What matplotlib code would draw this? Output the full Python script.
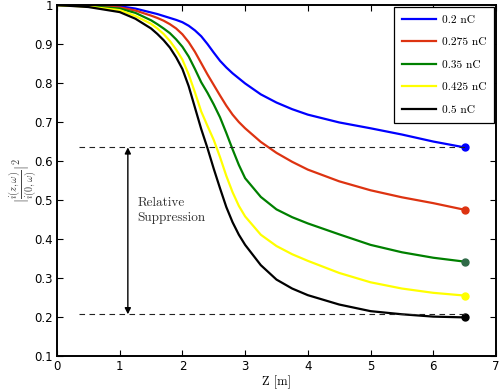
import numpy as np
import matplotlib
matplotlib.use("Agg")
import matplotlib.pyplot as plt

plt.rcParams['mathtext.fontset'] = 'cm'

# Z positions (m) and normalised current for each bunch charge
z = [0, 0.5, 1.0, 1.25, 1.5, 1.6, 1.7, 1.8, 1.9, 2.0, 2.1, 2.2, 2.3, 2.4, 2.5, 2.6, 2.7, 2.8, 2.9, 3.0,
     3.25, 3.5, 3.75, 4.0, 4.5, 5.0, 5.5, 6.0, 6.5]

q_02 = [1.0, 0.999, 0.997, 0.991, 0.981, 0.977, 0.972, 0.967, 0.962, 0.956, 0.947, 0.935, 0.920,
        0.900, 0.878, 0.857, 0.840, 0.825, 0.812, 0.799, 0.771, 0.750, 0.733, 0.719, 0.699,
        0.684, 0.668, 0.650, 0.635]
q_0275 = [1.0, 0.998, 0.994, 0.986, 0.973, 0.967, 0.960, 0.951, 0.940, 0.925, 0.905, 0.880, 0.851,
          0.822, 0.795, 0.768, 0.742, 0.719, 0.700, 0.684, 0.649, 0.621, 0.598, 0.578, 0.548,
          0.525, 0.507, 0.492, 0.475]
q_035 = [1.0, 0.997, 0.991, 0.980, 0.961, 0.951, 0.940, 0.928, 0.912, 0.893, 0.868, 0.836, 0.802,
         0.775, 0.745, 0.712, 0.672, 0.630, 0.590, 0.556, 0.508, 0.476, 0.456, 0.440, 0.412,
         0.385, 0.366, 0.352, 0.342]
q_0425 = [1.0, 0.996, 0.987, 0.972, 0.952, 0.940, 0.926, 0.908, 0.886, 0.860, 0.822, 0.776, 0.727,
          0.690, 0.654, 0.610, 0.562, 0.520, 0.485, 0.458, 0.411, 0.382, 0.361, 0.344, 0.313,
          0.289, 0.273, 0.262, 0.255]
q_05 = [1.0, 0.995, 0.982, 0.965, 0.940, 0.926, 0.910, 0.891, 0.866, 0.836, 0.792, 0.737, 0.682,
        0.633, 0.580, 0.530, 0.482, 0.443, 0.411, 0.385, 0.333, 0.296, 0.273, 0.256, 0.232,
        0.215, 0.207, 0.201, 0.199]

etiquetas = ['0.2 nC', '0.275 nC', '0.35 nC', '0.425 nC', '0.5 nC']
colores = ['#0000ff', '#dd3311', '#008000', '#ffff00', '#000000']
colores_punto = ['#0000ff', '#dd3311', '#2f6a48', '#ffff00', '#000000']

# dashed reference levels and arrow position
nivel_alto = 0.635
nivel_bajo = 0.207
z_linea = [0.35, 6.5]
z_flecha = 1.13

fig = plt.figure(figsize=(5.03, 3.9), dpi=100)
ax = fig.add_axes([0.1133, 0.0872, 0.8727, 0.8998])

for serie, etiqueta, color, cp in zip([q_02, q_0275, q_035, q_0425, q_05], etiquetas, colores, colores_punto):
    ax.plot(z, serie, color=color, linewidth=1.6, label=etiqueta)
    ax.plot(z[-1], serie[-1], 'o', color=cp, markersize=5)

ax.plot(z_linea, [nivel_alto, nivel_alto], '--', color='#222222', linewidth=0.8, dashes=(5, 4))
ax.plot(z_linea, [nivel_bajo, nivel_bajo], '--', color='#222222', linewidth=0.8, dashes=(5, 4))
ax.annotate('', xy=(z_flecha, nivel_alto), xytext=(z_flecha, nivel_bajo),
            arrowprops=dict(arrowstyle='<|-|>', color='black', linewidth=1.0,
                            mutation_scale=9, shrinkA=0, shrinkB=0))
ax.text(1.28, 0.474, 'Relative\nSuppression', family='cmr10', fontsize=9.5,
        ha='left', va='center', color='#333333', linespacing=1.3)

ax.set_xlim(0, 7)
ax.set_ylim(0.1, 1)
ax.set_xticks(range(0, 8))
ax.set_yticks(np.arange(0.1, 1.01, 0.1))
ax.set_yticklabels(['0.1', '0.2', '0.3', '0.4', '0.5', '0.6', '0.7', '0.8', '0.9', '1'])
ax.tick_params(direction='in', top=True, right=True, labelsize=8.5, length=4, width=0.8, pad=3)
for s in ax.spines.values():
    s.set_linewidth(1.4)

ax.set_xlabel('Z [m]', family='cmr10', fontsize=9, labelpad=2)
ax.set_ylabel(r'$|\frac{i(z,\omega)}{i(0,\omega)}|^2$', fontsize=10.5, color='#444444')
ax.yaxis.set_label_coords(-0.042, 0.5)

leg = ax.legend(loc='upper right', fancybox=False, edgecolor='black', framealpha=1,
                prop={'family': 'cmr10', 'size': 8.2}, handlelength=3.0, handletextpad=0.5,
                borderpad=0.7, labelspacing=1.1, borderaxespad=0.15)
leg.get_frame().set_linewidth(0.9)

fig.savefig('out.png', dpi=100)
